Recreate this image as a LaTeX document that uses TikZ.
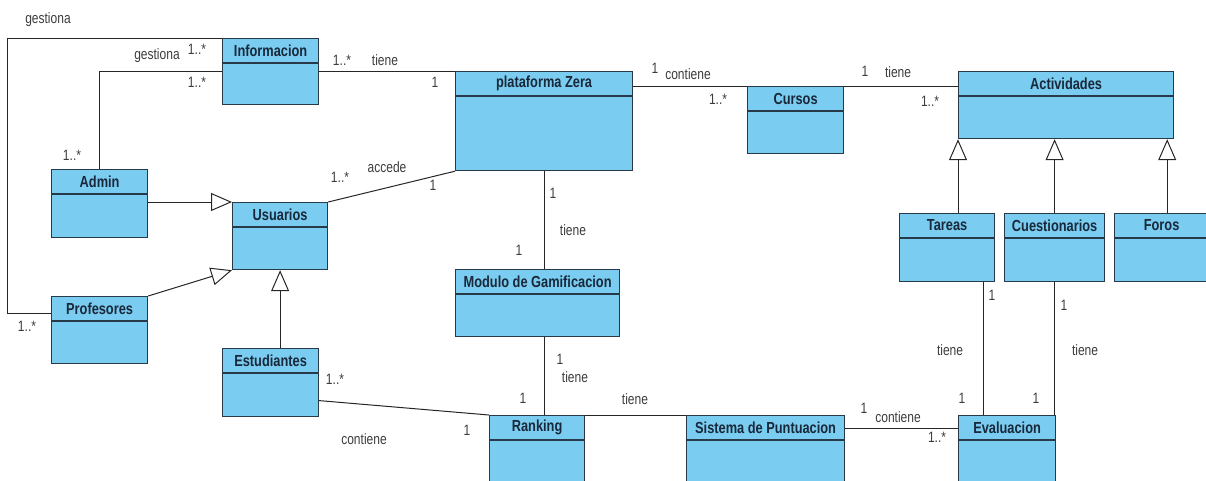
\documentclass[tikz,border=0pt]{standalone}
\usepackage{fontspec}
\setmainfont{Liberation Sans}[FakeStretch=0.8]
\usepackage{tikz}
\usetikzlibrary{arrows.meta}
\definecolor{celeste}{RGB}{122,204,240}
\definecolor{borde}{RGB}{40,58,74}
\definecolor{tinta}{RGB}{25,40,58}
\definecolor{gris}{RGB}{60,60,60}
\tikzset{>=latex}
\tikzset{
  clase/.style={draw=borde, fill=celeste, line width=1.2pt, anchor=north west, inner sep=0pt},
  titulo/.style={text=tinta, font=\fontsize{16}{18}\selectfont\bfseries, inner sep=0pt},
  etiq/.style={text=gris, font=\fontsize{15}{17}\selectfont, inner sep=0pt},
  linea/.style={draw=black!85, line width=1pt},
  herencia/.style={linea, -{Triangle[open, length=21pt, width=18pt, line width=1pt]}}
}
% caja de clase: nombre, x, y, ancho, alto, titulo
\newcommand{\clase}[6]{%
  \node[clase, minimum width=#4pt, minimum height=#5pt] (#1) at (#2,#3) {};
  \draw[borde, line width=1.2pt] ([yshift=-25pt]#1.north west) -- ([yshift=-25pt]#1.north east);
  \node[titulo] (#1t) at ([yshift=-12.5pt]#1.north) {#6};
}

\begin{document}
\begin{tikzpicture}[x=1pt, y=-1pt]
  \useasboundingbox (0,0) rectangle (1206,480);
  \clip (0,0) rectangle (1206,480);

  % clases
  \clase{info}{222}{38}{96}{66}{Informacion}
  \clase{plat}{455}{71}{177}{99}{plataforma Zera}
  \clase{cursos}{747}{86}{96}{67}{Cursos}
  \clase{activ}{958}{71}{215}{67}{Actividades}
  \clase{admin}{51}{169}{96}{68}{Admin}
  \clase{usuarios}{232}{202}{95}{67}{Usuarios}
  \clase{prof}{51}{296}{96}{67}{Profesores}
  \clase{estud}{222}{348}{96}{68}{Estudiantes}
  \clase{modulo}{455}{269}{164}{67}{Modulo de Gamificacion}
  \clase{tareas}{899}{213}{95}{68}{Tareas}
  \clase{cuest}{1004}{213}{100}{68}{Cuestionarios}
  \clase{foros}{1114}{213}{94}{68}{Foros}
  \clase{ranking}{489}{415}{95}{80}{Ranking}
  \clase{sistema}{686}{415}{158}{80}{Sistema de Puntuacion}
  \clase{evalua}{958}{415}{97}{80}{Evaluacion}

  % asociaciones
  \draw[linea] ([yshift=-17pt]prof.north west) -- ++(-44,0) |- (info.north west)
    node[etiq] at (48,20) {gestiona}
    node[etiq] at (197,49) {1..*}
    node[etiq] at (27,326) {1..*};
  \draw[linea] (admin.north) |- (info.west)
    node[etiq] at (157,56) {gestiona}
    node[etiq] at (197,82) {1..*}
    node[etiq] at (72,155) {1..*};
  \draw[linea] (info.east) -- (info.east -| plat.west)
    node[etiq] at (342,60) {1..*}
    node[etiq] at (385,60) {tiene}
    node[etiq] at (435,82) {1};
  \draw[linea] (usuarios.north east) -- (plat.south west)
    node[etiq] at (340,177) {1..*}
    node[etiq] at (387,167) {accede}
    node[etiq] at (433,185) {1};
  \draw[linea] (plat.east |- cursos.north) -- (cursos.north west)
    node[etiq] at (655,68) {1}
    node[etiq] at (688,74) {contiene}
    node[etiq] at (718,99) {1..*};
  \draw[linea] (cursos.north east) -- (cursos.north east -| activ.west)
    node[etiq] at (865,71) {1}
    node[etiq] at (898,72) {tiene}
    node[etiq] at (930,101) {1..*};
  \draw[linea] (plat.south) -- (plat.south |- modulo.north)
    node[etiq] at (553,193) {1}
    node[etiq] at (573,230) {tiene}
    node[etiq] at (519,250) {1};
  \draw[linea] (plat.south |- modulo.south) -- (plat.south |- ranking.north)
    node[etiq] at (560,359) {1}
    node[etiq] at (575,377) {tiene}
    node[etiq] at (523,398) {1};
  \draw[linea] (ranking.north east) -- (sistema.north west)
    node[etiq] at (635,399) {tiene};
  \draw[linea] ([yshift=-18pt]estud.east) -- (ranking.north west)
    node[etiq] at (335,379) {1..*}
    node[etiq] at (364,439) {contiene}
    node[etiq] at (467,430) {1};
  \draw[linea] ([yshift=-13pt]sistema.north east) -- ([yshift=-13pt]evalua.north west)
    node[etiq] at (864,408) {1}
    node[etiq] at (898,417) {contiene}
    node[etiq] at (937,437) {1..*};
  \coordinate (ta) at ([xshift=-12pt]tareas.south east);
  \draw[linea] (ta) -- (ta |- evalua.north)
    node[etiq] at (992,295) {1}
    node[etiq] at (950,350) {tiene}
    node[etiq] at (962,398) {1};
  \draw[linea] (cuest.south) -- (cuest.south |- evalua.north)
    node[etiq] at (1064,305) {1}
    node[etiq] at (1085,350) {tiene}
    node[etiq] at (1036,398) {1};

  % herencia
  \draw[herencia] (admin.east |- usuarios.north) -- (usuarios.north west);
  \draw[herencia] (prof.north east) -- (usuarios.south west);
  \draw[herencia] (usuarios.south |- estud.north) -- (usuarios.south);
  \draw[herencia] (tareas.north -| activ.south west) -- (activ.south west);
  \draw[herencia] (cuest.north) -- (cuest.north |- activ.south);
  \coordinate (fo) at ([xshift=-7pt]activ.south east);
  \draw[herencia] (fo |- foros.north) -- (fo);
\end{tikzpicture}
\end{document}
